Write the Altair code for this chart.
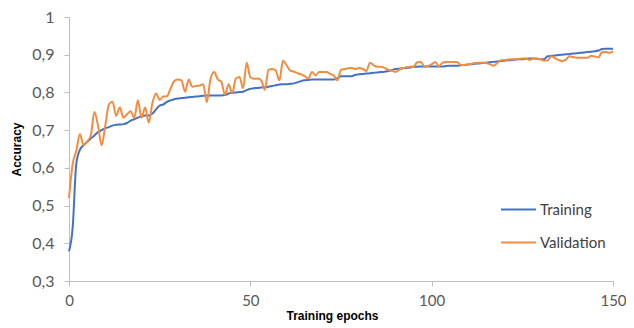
import altair as alt
import pandas as pd

epochs = list(range(151))

training = [
    0.379, 0.44, 0.61, 0.648, 0.66, 0.669, 0.678, 0.686, 0.695, 0.70,
    0.705, 0.708, 0.712, 0.714, 0.715, 0.716, 0.719, 0.725, 0.729, 0.733,
    0.737, 0.739, 0.739, 0.744, 0.755, 0.765, 0.768, 0.775, 0.779, 0.782,
    0.784, 0.785, 0.786, 0.787, 0.788, 0.789, 0.79, 0.791, 0.792, 0.792,
    0.792, 0.792, 0.792, 0.793, 0.797, 0.799, 0.80, 0.801, 0.802, 0.806,
    0.81, 0.811, 0.812, 0.813, 0.814, 0.815, 0.817, 0.819, 0.821, 0.822,
    0.822, 0.823, 0.824, 0.827, 0.83, 0.832, 0.833, 0.834, 0.834, 0.834,
    0.834, 0.834, 0.834, 0.834, 0.838, 0.843, 0.843, 0.843, 0.843, 0.847,
    0.848, 0.849, 0.85, 0.851, 0.852, 0.853, 0.854, 0.855, 0.857, 0.859,
    0.862, 0.863, 0.864, 0.865, 0.866, 0.868, 0.868, 0.869, 0.869, 0.869,
    0.869, 0.869, 0.869, 0.869, 0.87, 0.871, 0.871, 0.871, 0.872, 0.873,
    0.874, 0.875, 0.876, 0.877, 0.878, 0.879, 0.88, 0.881, 0.882, 0.883,
    0.884, 0.885, 0.886, 0.887, 0.888, 0.888, 0.889, 0.89, 0.89, 0.889,
    0.888, 0.888, 0.896, 0.897, 0.898, 0.899, 0.90, 0.901, 0.902, 0.903,
    0.904, 0.905, 0.906, 0.907, 0.908, 0.909, 0.911, 0.915, 0.916, 0.916,
    0.916,
]

validation = [
    0.52, 0.61, 0.645, 0.69, 0.66, 0.67, 0.686, 0.748, 0.712, 0.66,
    0.712, 0.768, 0.775, 0.738, 0.76, 0.733, 0.742, 0.75, 0.733, 0.779,
    0.733, 0.76, 0.72, 0.772, 0.797, 0.78, 0.789, 0.79, 0.81, 0.83,
    0.834, 0.832, 0.802, 0.834, 0.815, 0.817, 0.818, 0.822, 0.774, 0.835,
    0.854, 0.835, 0.828, 0.794, 0.822, 0.798, 0.837, 0.841, 0.811, 0.879,
    0.84, 0.836, 0.837, 0.832, 0.807, 0.86, 0.862, 0.858, 0.832, 0.884,
    0.872, 0.858, 0.855, 0.851, 0.848, 0.843, 0.837, 0.854, 0.845, 0.854,
    0.854, 0.854, 0.849, 0.845, 0.832, 0.86, 0.862, 0.864, 0.865, 0.862,
    0.865, 0.862, 0.857, 0.879, 0.872, 0.868, 0.868, 0.865, 0.86, 0.858,
    0.854, 0.86, 0.864, 0.867, 0.868, 0.868, 0.88, 0.881, 0.869, 0.87,
    0.875, 0.881, 0.869, 0.879, 0.881, 0.881, 0.881, 0.881, 0.873, 0.873,
    0.874, 0.876, 0.878, 0.879, 0.879, 0.878, 0.875, 0.871, 0.877, 0.885,
    0.886, 0.887, 0.888, 0.888, 0.889, 0.89, 0.89, 0.886, 0.89, 0.89,
    0.888, 0.884, 0.885, 0.896, 0.891, 0.886, 0.883, 0.887, 0.896, 0.894,
    0.892, 0.892, 0.892, 0.892, 0.897, 0.895, 0.893, 0.907, 0.907, 0.905,
    0.909,
]

series_names = ["Training", "Validation"]
series_colors = ["#4472C4", "#F28C40"]
y_ticks = [0.3, 0.4, 0.5, 0.6, 0.7, 0.8, 0.9, 1.0]
x_ticks = [0, 50, 100, 150]

assert len(training) == len(epochs) and len(validation) == len(epochs)

df = pd.concat([
    pd.DataFrame({"epoch": epochs, "acc": training, "series": series_names[0]}),
    pd.DataFrame({"epoch": epochs, "acc": validation, "series": series_names[1]}),
])

label_font = "Lato"
title_font = "Liberation Sans"

chart = alt.Chart(df).mark_line(strokeWidth=2, interpolate="monotone").encode(
    x=alt.X("epoch:Q",
            scale=alt.Scale(domain=[0, 150], nice=False),
            axis=alt.Axis(values=x_ticks, title="Training epochs", grid=False,
                          tickSize=5, labelPadding=7, titlePadding=2,
                          labelFontSize=15,
                          titleX=263, labelFlush=False)),
    y=alt.Y("acc:Q",
            scale=alt.Scale(domain=[0.3, 1.0], nice=False, zero=False),
            axis=alt.Axis(values=y_ticks, title="Accuracy", grid=False,
                          tickSize=5, labelPadding=10, titlePadding=8,
                          labelFontSize=16,
                          labelExpr="datum.value >= 0.999 ? '1' : replace(format(datum.value, '.1f'), '.', ',')")),
    color=alt.Color("series:N",
                    scale=alt.Scale(domain=series_names, range=series_colors),
                    legend=alt.Legend(title=None, orient="none", legendX=431, legendY=174,
                                      symbolType="stroke", symbolSize=1225,
                                      symbolStrokeWidth=2, labelFontSize=15,
                                      labelFont=label_font, labelColor="#404040",
                                      rowPadding=6, labelOffset=3)),
    order=alt.Order("series:N"),
).properties(
    width=544,
    height=264,
    autosize="none",
    padding={"left": 61, "top": 9, "right": 13, "bottom": 45},
).configure_axis(
    domainColor="#BFBFBF",
    tickColor="#BFBFBF",
    labelColor="#595959",
    labelFont=label_font,
    titleFont=title_font,
    titleFontSize=12,
    titleFontWeight="bold",
    titleColor="#000000",
).configure_view(stroke=None)

chart.save("out.html", embed_options={"renderer": "svg", "actions": False})
